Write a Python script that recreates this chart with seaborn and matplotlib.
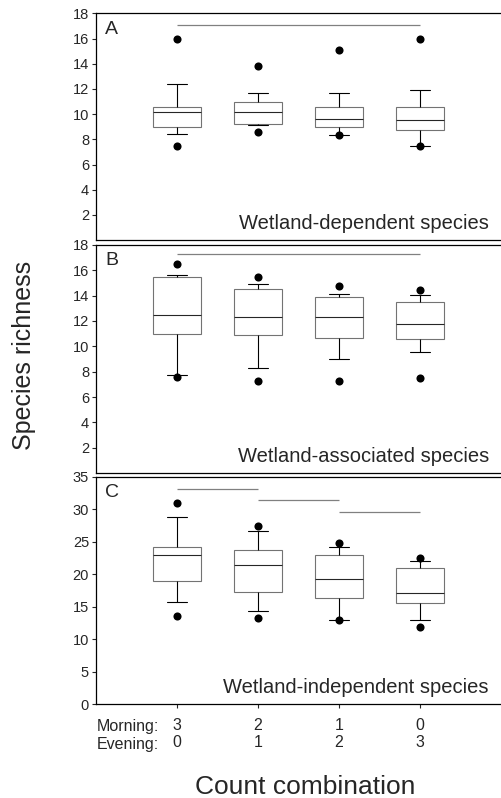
import pandas as pd
import matplotlib.pyplot as plt
import seaborn as sns

sns.set_style('ticks')
plt.rcParams['font.family'] = ['Liberation Sans', 'DejaVu Sans']

# --- data ---
positions = [1, 2, 3, 4]
morning = ['3', '2', '1', '0']
evening = ['0', '1', '2', '3']

# panel A: wetland-dependent species
a_whislo = [8.4, 9.1, 8.35, 7.5]
a_q1 = [9.0, 9.2, 9.0, 8.75]
a_med = [10.15, 10.15, 9.65, 9.55]
a_q3 = [10.55, 10.95, 10.55, 10.55]
a_whishi = [12.4, 11.7, 11.7, 11.9]
a_p5 = [7.5, 8.6, 8.35, 7.5]
a_p95 = [16.0, 13.85, 15.1, 16.0]

# panel B: wetland-associated species
b_whislo = [7.75, 8.3, 9.0, 9.55]
b_q1 = [11.0, 10.9, 10.65, 10.55]
b_med = [12.5, 12.3, 12.3, 11.75]
b_q3 = [15.5, 14.5, 13.9, 13.5]
b_whishi = [15.6, 14.9, 14.1, 14.05]
b_p5 = [7.55, 7.3, 7.3, 7.5]
b_p95 = [16.5, 15.5, 14.8, 14.45]

# panel C: wetland-independent species
c_whislo = [15.8, 14.4, 13.0, 12.9]
c_q1 = [18.95, 17.25, 16.3, 15.55]
c_med = [22.95, 21.5, 19.3, 17.15]
c_q3 = [24.2, 23.8, 23.0, 20.9]
c_whishi = [28.9, 26.7, 24.25, 22.0]
c_p5 = [13.5, 13.2, 13.0, 11.8]
c_p95 = [31.0, 27.4, 24.8, 22.55]

# non-significant groupings (from, to, height)
a_sig = [(1, 4, 17.1)]
b_sig = [(1, 4, 17.3)]
c_sig = [(1, 2, 33.2), (2, 3, 31.4), (3, 4, 29.6)]

panels = [
    ('A', 'Wetland-dependent species', a_whislo, a_q1, a_med, a_q3, a_whishi, a_p5, a_p95, a_sig, 18, list(range(2, 19, 2))),
    ('B', 'Wetland-associated species', b_whislo, b_q1, b_med, b_q3, b_whishi, b_p5, b_p95, b_sig, 18, list(range(2, 19, 2))),
    ('C', 'Wetland-independent species', c_whislo, c_q1, c_med, c_q3, c_whishi, c_p5, c_p95, c_sig, 35, list(range(0, 36, 5))),
]

fig = plt.figure(figsize=(5.01, 7.98), dpi=100)
W, H = 501, 798
left = 96 / W
xmax = 5.05
width = (405 / 5 * xmax) / W  # axes runs a bit past the right edge
axes_px = [(13.3, 240.2), (245.0, 473.0), (477.0, 704.0)]

for (letter, label, wlo, q1, med, q3, whi, p5, p95, sig, ymax, yticks), (top, bot) in zip(panels, axes_px):
    ax = fig.add_axes([left, 1 - bot / H, width, (bot - top) / H])

    # five values per group so the quartiles land on the read values
    rows = []
    for i, p in enumerate(positions):
        for v in (wlo[i], q1[i], med[i], q3[i], whi[i]):
            rows.append({'pos': p, 'val': v})
    df = pd.DataFrame(rows)

    sns.boxplot(
        data=df, x='pos', y='val', native_scale=True, width=0.6,
        whis=(0, 100), color='white', linewidth=0.8, fliersize=0,
        boxprops={'edgecolor': '0.45'},
        whiskerprops={'color': 'black'},
        capprops={'color': 'black'},
        medianprops={'color': '0.15'},
        capwidths=0.25,
        ax=ax,
    )
    sns.scatterplot(x=positions, y=p5, color='black', s=34, linewidth=0, ax=ax, legend=False, zorder=5)
    sns.scatterplot(x=positions, y=p95, color='black', s=34, linewidth=0, ax=ax, legend=False, zorder=5)

    for x0, x1, yv in sig:
        ax.hlines(yv, x0, x1, color='0.5', linewidth=0.9)

    ax.set_xlim(0, xmax)
    ax.set_ylim(0, ymax)
    ax.set_yticks(yticks)
    ax.tick_params(axis='y', labelsize=10.5, length=3, width=0.8, pad=2)
    ax.set_xlabel('')
    ax.set_ylabel('')
    ax.spines['right'].set_visible(False)
    for s in ('left', 'top', 'bottom'):
        ax.spines[s].set_linewidth(0.9)
        ax.spines[s].set_color('black')

    if letter == 'C':
        ax.set_xticks(positions)
        ax.set_xticklabels([m + '\n' + e for m, e in zip(morning, evening)], fontsize=11.5, linespacing=1.15)
        ax.tick_params(axis='x', length=3, width=0.8, pad=7)
    else:
        ax.set_xticks([])

    ax.text(9 / 405 * 5 / xmax, 0.968, letter, transform=ax.transAxes, ha='left', va='top', fontsize=14)
    ax.text(393 / 405 * 5 / xmax, 0.048, label, transform=ax.transAxes, ha='right', va='baseline', fontsize=14.5)

fig.text(97 / W, 1 - 727 / H, 'Morning:', ha='left', va='center', fontsize=11.5)
fig.text(97 / W, 1 - 745 / H, 'Evening:', ha='left', va='center', fontsize=11.5)
fig.text(24 / W, 1 - 355 / H, 'Species richness', rotation=90, ha='center', va='center', fontsize=18)
fig.text(305 / W, 1 - 787 / H, 'Count combination', ha='center', va='center', fontsize=19)

fig.savefig('out.png', dpi=100)
